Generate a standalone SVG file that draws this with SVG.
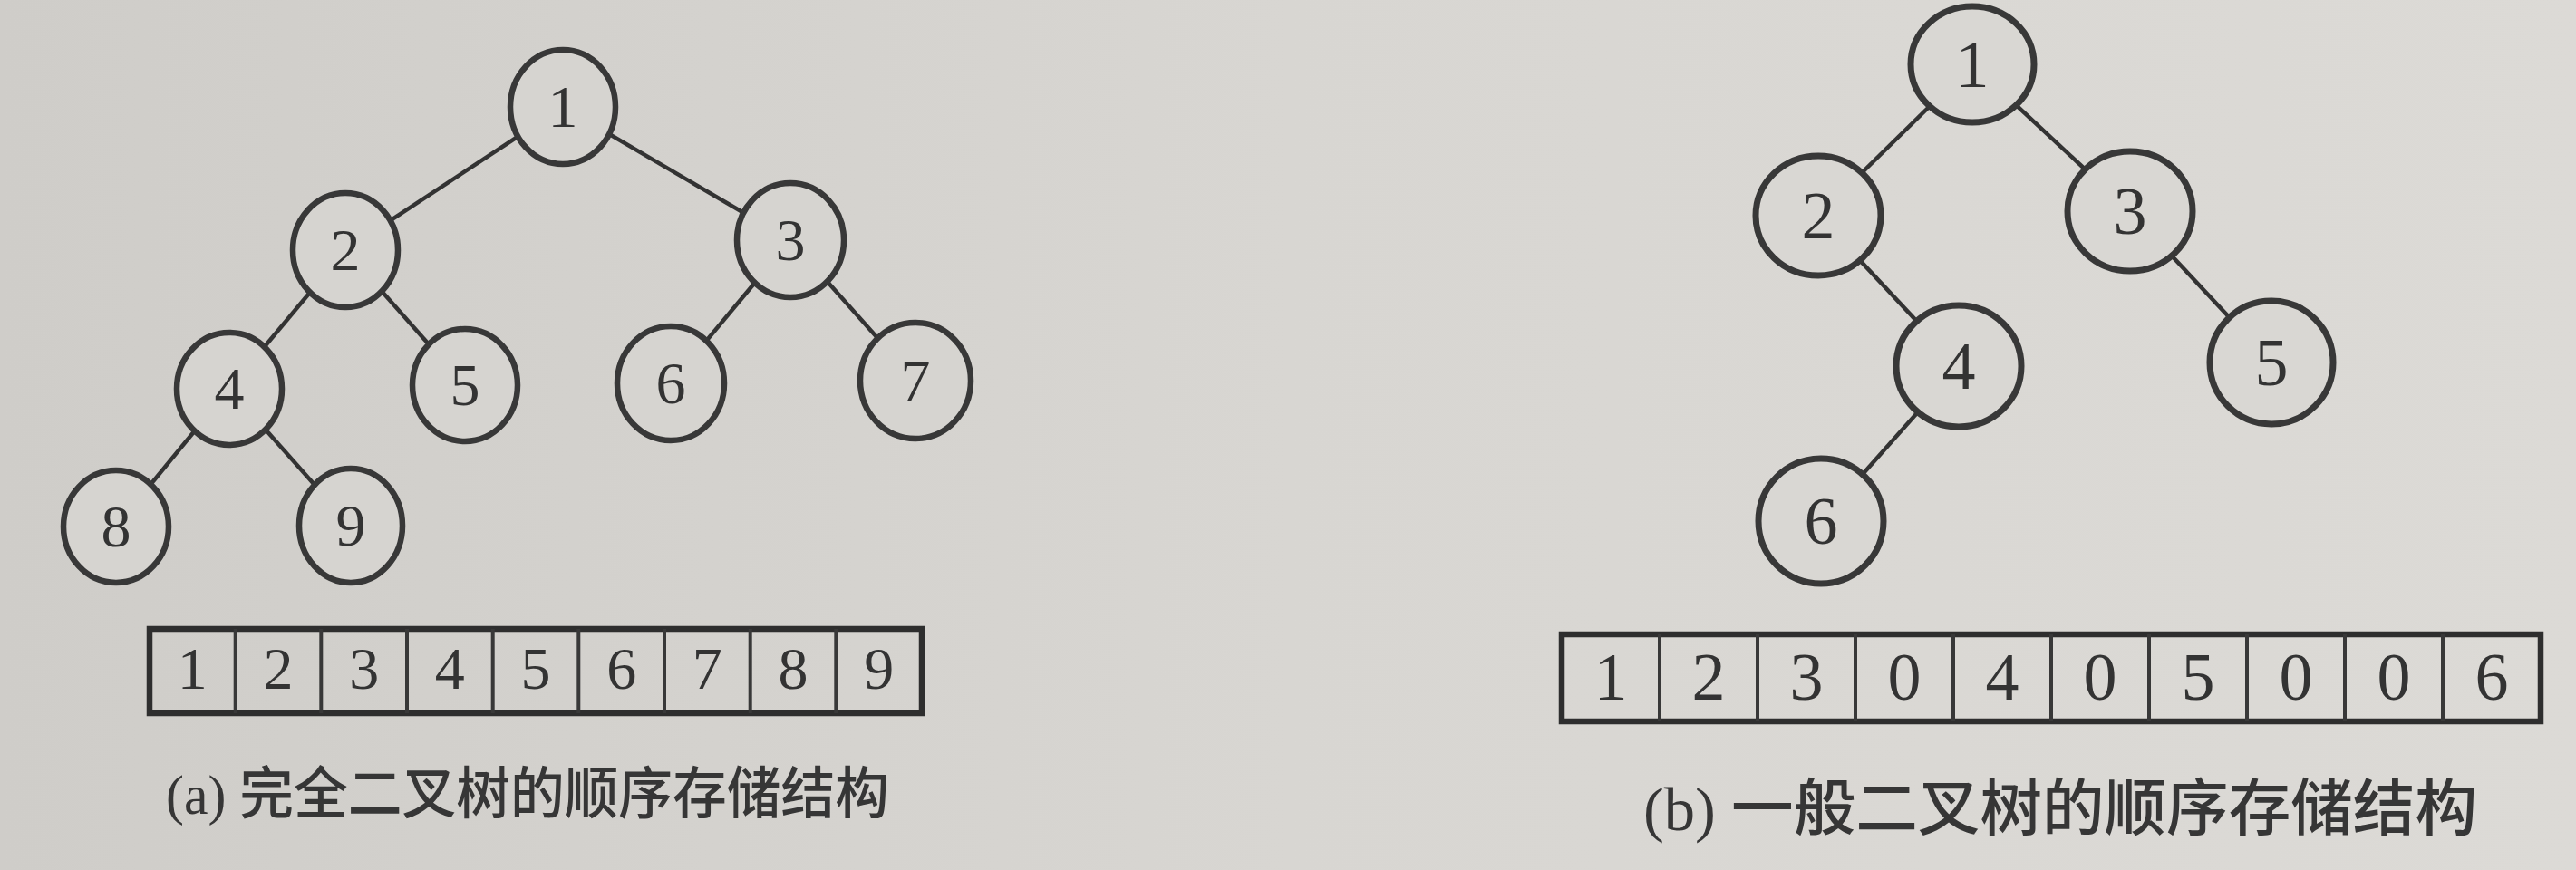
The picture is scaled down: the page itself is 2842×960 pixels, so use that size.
<svg xmlns="http://www.w3.org/2000/svg" width="2842" height="960" viewBox="0 0 2842 960">
<defs>
<linearGradient id="bg" x1="0" y1="0" x2="1" y2="0">
<stop offset="0" stop-color="#cfcdc9"/>
<stop offset="0.5" stop-color="#d8d6d2"/>
<stop offset="1" stop-color="#dcdad6"/>
</linearGradient>
<style>
.edge{stroke:#333;stroke-width:4.5;fill:none}
.nl{fill:#d6d4d0;stroke:#383838;stroke-width:6.5}
.nr{fill:#d9d7d3;stroke:#383838;stroke-width:7}
.dl{font-family:"Liberation Serif",serif;font-size:66px;fill:#333;text-anchor:middle}
.dr{font-family:"Liberation Serif",serif;font-size:74px;fill:#333;text-anchor:middle}
.box{fill:none;stroke:#2e2e2e;stroke-width:6.5}
.div{stroke:#383838;stroke-width:4}
.cap{font-family:"Liberation Serif","Noto Sans CJK SC",sans-serif;fill:#363636;font-weight:500}
</style>
</defs>
<rect x="0" y="0" width="2842" height="960" fill="url(#bg)"/>

<g id="connectors">
<line class="edge" x1="621" y1="118" x2="381" y2="276"/>
<line class="edge" x1="621" y1="118" x2="872" y2="265"/>
<line class="edge" x1="381" y1="276" x2="253" y2="429"/>
<line class="edge" x1="381" y1="276" x2="513" y2="425"/>
<line class="edge" x1="872" y1="265" x2="740" y2="423"/>
<line class="edge" x1="872" y1="265" x2="1010" y2="420"/>
<line class="edge" x1="253" y1="429" x2="128" y2="581"/>
<line class="edge" x1="253" y1="429" x2="387" y2="580"/>
<line class="edge" x1="2176" y1="71" x2="2006" y2="238"/>
<line class="edge" x1="2176" y1="71" x2="2350" y2="233"/>
<line class="edge" x1="2006" y1="238" x2="2161" y2="404"/>
<line class="edge" x1="2350" y1="233" x2="2506" y2="400"/>
<line class="edge" x1="2161" y1="404" x2="2009" y2="575"/>
</g>

<g id="a1"><ellipse class="nl" cx="621" cy="118" rx="58" ry="63"/><text class="dl" x="621" y="140">1</text></g>
<g id="a2"><ellipse class="nl" cx="381" cy="276" rx="58" ry="63"/><text class="dl" x="381" y="298">2</text></g>
<g id="a3"><ellipse class="nl" cx="872" cy="265" rx="59" ry="63"/><text class="dl" x="872" y="287">3</text></g>
<g id="a4"><ellipse class="nl" cx="253" cy="429" rx="58" ry="62"/><text class="dl" x="253" y="451">4</text></g>
<g id="a5"><ellipse class="nl" cx="513" cy="425" rx="58" ry="62"/><text class="dl" x="513" y="447">5</text></g>
<g id="a6"><ellipse class="nl" cx="740" cy="423" rx="59" ry="63"/><text class="dl" x="740" y="445">6</text></g>
<g id="a7"><ellipse class="nl" cx="1010" cy="420" rx="61" ry="64"/><text class="dl" x="1010" y="442">7</text></g>
<g id="a8"><ellipse class="nl" cx="128" cy="581" rx="58" ry="62"/><text class="dl" x="128" y="603">8</text></g>
<g id="a9"><ellipse class="nl" cx="387" cy="580" rx="57" ry="63"/><text class="dl" x="387" y="602">9</text></g>

<g id="b1"><ellipse class="nr" cx="2176" cy="71" rx="68" ry="64"/><text class="dr" x="2176" y="96">1</text></g>
<g id="b2"><ellipse class="nr" cx="2006" cy="238" rx="69" ry="66"/><text class="dr" x="2006" y="263">2</text></g>
<g id="b3"><ellipse class="nr" cx="2350" cy="233" rx="69" ry="66"/><text class="dr" x="2350" y="258">3</text></g>
<g id="b4"><ellipse class="nr" cx="2161" cy="404" rx="69" ry="67"/><text class="dr" x="2161" y="429">4</text></g>
<g id="b5"><ellipse class="nr" cx="2506" cy="400" rx="68" ry="68"/><text class="dr" x="2506" y="425">5</text></g>
<g id="b6"><ellipse class="nr" cx="2009" cy="575" rx="69" ry="69"/><text class="dr" x="2009" y="600">6</text></g>

<g id="arrayA">
<rect class="box" x="165" y="694" width="852" height="93"/>
<line class="div" x1="259.7" y1="694" x2="259.7" y2="787"/>
<line class="div" x1="354.3" y1="694" x2="354.3" y2="787"/>
<line class="div" x1="449" y1="694" x2="449" y2="787"/>
<line class="div" x1="543.7" y1="694" x2="543.7" y2="787"/>
<line class="div" x1="638.3" y1="694" x2="638.3" y2="787"/>
<line class="div" x1="733" y1="694" x2="733" y2="787"/>
<line class="div" x1="827.7" y1="694" x2="827.7" y2="787"/>
<line class="div" x1="922.3" y1="694" x2="922.3" y2="787"/>
<text class="dl" x="212.3" y="760">1</text>
<text class="dl" x="307" y="760">2</text>
<text class="dl" x="401.7" y="760">3</text>
<text class="dl" x="496.3" y="760">4</text>
<text class="dl" x="591" y="760">5</text>
<text class="dl" x="685.7" y="760">6</text>
<text class="dl" x="780.3" y="760">7</text>
<text class="dl" x="875" y="760">8</text>
<text class="dl" x="969.7" y="760">9</text>
</g>

<g id="arrayB">
<rect class="box" x="1723" y="700" width="1080" height="96"/>
<line class="div" x1="1831" y1="700" x2="1831" y2="796"/>
<line class="div" x1="1939" y1="700" x2="1939" y2="796"/>
<line class="div" x1="2047" y1="700" x2="2047" y2="796"/>
<line class="div" x1="2155" y1="700" x2="2155" y2="796"/>
<line class="div" x1="2263" y1="700" x2="2263" y2="796"/>
<line class="div" x1="2371" y1="700" x2="2371" y2="796"/>
<line class="div" x1="2479" y1="700" x2="2479" y2="796"/>
<line class="div" x1="2587" y1="700" x2="2587" y2="796"/>
<line class="div" x1="2695" y1="700" x2="2695" y2="796"/>
<text class="dr" x="1777" y="772">1</text>
<text class="dr" x="1885" y="772">2</text>
<text class="dr" x="1993" y="772">3</text>
<text class="dr" x="2101" y="772">0</text>
<text class="dr" x="2209" y="772">4</text>
<text class="dr" x="2317" y="772">0</text>
<text class="dr" x="2425" y="772">5</text>
<text class="dr" x="2533" y="772">0</text>
<text class="dr" x="2641" y="772">0</text>
<text class="dr" x="2749" y="772">6</text>
</g>

<g id="captionA"><text class="cap" x="183" y="898" font-size="62" textLength="798" lengthAdjust="spacingAndGlyphs">(a) 完全二叉树的顺序存储结构</text></g>
<g id="captionB"><text class="cap" x="1813" y="916" font-size="68" textLength="920" lengthAdjust="spacingAndGlyphs">(b) 一般二叉树的顺序存储结构</text></g>
</svg>
